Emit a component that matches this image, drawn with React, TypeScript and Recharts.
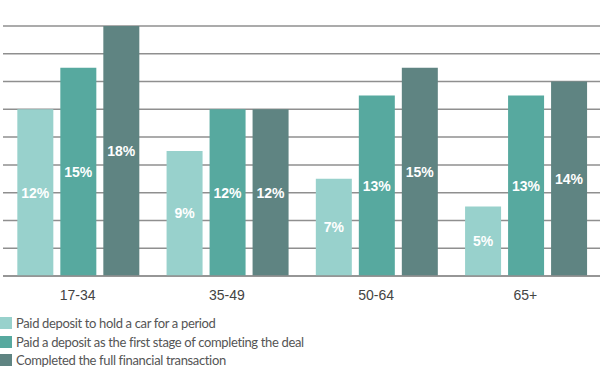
import React from "react";
import { BarChart, Bar, XAxis, YAxis, CartesianGrid, LabelList } from "recharts";

const ageGroups = ["17-34", "35-49", "50-64", "65+"];
const depositHold = [12, 9, 7, 5];
const depositFirstStage = [15, 12, 13, 13];
const completedFull = [18, 12, 15, 14];
const yTicks = [0, 2, 4, 6, 8, 10, 12, 14, 16, 18];

const seriesNames = [
  "Paid deposit to hold a car for a period",
  "Paid a deposit as the first stage of completing the deal",
  "Completed the full financial transaction",
];
const colors = ["#98d1cc", "#57a99f", "#5f8482"];

const data = ageGroups.map((age, i) => ({
  age,
  hold: depositHold[i],
  first: depositFirstStage[i],
  full: completedFull[i],
}));

const keys = ["hold", "first", "full"];

export default function App() {
  return (
    <div style={{ position: "absolute", left: 0, top: 0, width: 600, height: 370, background: "#fff", overflow: "hidden" }}>
      <BarChart
        width={600}
        height={316}
        data={data}
        margin={{ top: 26, right: 0, left: 3, bottom: 0 }}
        barCategoryGap="9.6%"
        barGap={7}
      >
        <CartesianGrid vertical={false} stroke="#8f8f8f" strokeWidth={1.5} />
        <YAxis hide domain={[0, 18]} ticks={yTicks} />
        <XAxis
          dataKey="age"
          height={40}
          axisLine={{ stroke: "#8f8f8f", strokeWidth: 1.5 }}
          tickLine={false}
          tickMargin={8}
          tick={{ fill: "#444", fontSize: 14, fontFamily: "Liberation Sans", fontWeight: 300 }}
        />
        {keys.map((k, i) => (
          <Bar key={k} dataKey={k} fill={colors[i]} isAnimationActive={false}>
            <LabelList
              dataKey={k}
              position="center"
              formatter={(v: number) => `${v}%`}
              style={{ fill: "#fff", fontSize: 14, fontWeight: 700, fontFamily: "Liberation Sans" }}
            />
          </Bar>
        ))}
      </BarChart>
      <div style={{ position: "absolute", left: 0, top: 314, fontFamily: "Lato", fontWeight: 400, fontSize: 13, letterSpacing: -0.35, color: "#555" }}>
        {seriesNames.map((name, i) => (
          <div key={name} style={{ display: "flex", alignItems: "center", height: 18.5 }}>
            <span style={{ width: 12, height: 12, background: colors[i], marginRight: 4, display: "inline-block" }} />
            <span>{name}</span>
          </div>
        ))}
      </div>
    </div>
  );
}
